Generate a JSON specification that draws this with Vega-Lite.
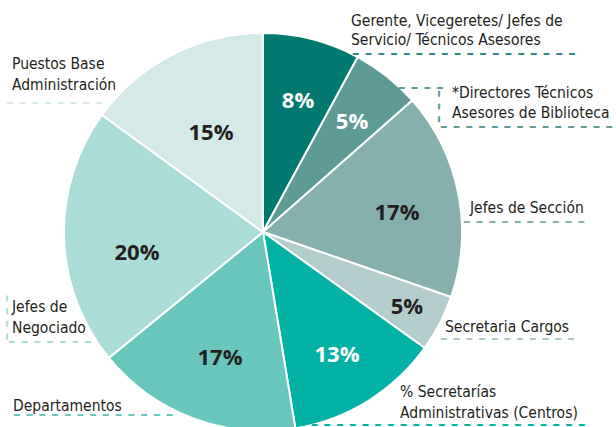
{
  "$schema": "https://vega.github.io/schema/vega-lite/v6.json",
  "width": 526,
  "height": 464,
  "autosize": "none",
  "padding": {"left": 0, "top": 0, "right": 90, "bottom": -37},
  "background": "white",
  "config": {"view": {"stroke": null}},
  "data": {
    "values": [
      {"orden": 1, "categoria": "Gerente, Vicegeretes/ Jefes de Servicio/ Técnicos Asesores", "lineas": ["Gerente, Vicegeretes/ Jefes de", "Servicio/ Técnicos Asesores"], "pct": 7.9, "etiqueta": "8%"},
      {"orden": 2, "categoria": "*Directores Técnicos Asesores de Biblioteca", "lineas": ["*Directores Técnicos", "Asesores de Biblioteca"], "pct": 5.6, "etiqueta": "5%"},
      {"orden": 3, "categoria": "Jefes de Sección", "lineas": ["Jefes de Sección"], "pct": 16.8, "etiqueta": "17%"},
      {"orden": 4, "categoria": "Secretaria Cargos", "lineas": ["Secretaria Cargos"], "pct": 4.6, "etiqueta": "5%"},
      {"orden": 5, "categoria": "% Secretarías Administrativas (Centros)", "lineas": ["% Secretarías", "Administrativas (Centros)"], "pct": 12.5, "etiqueta": "13%"},
      {"orden": 6, "categoria": "Departamentos", "lineas": ["Departamentos"], "pct": 16.7, "etiqueta": "17%"},
      {"orden": 7, "categoria": "Jefes de Negociado", "lineas": ["Jefes de", "Negociado"], "pct": 20.9, "etiqueta": "20%"},
      {"orden": 8, "categoria": "Puestos Base Administración", "lineas": ["Puestos Base", "Administración"], "pct": 15.0, "etiqueta": "15%"}
    ]
  },
  "encoding": {
    "theta": {"field": "pct", "type": "quantitative", "stack": true},
    "order": {"field": "orden", "type": "quantitative"}
  },
  "layer": [
    {
      "mark": {"type": "arc", "radius": 199, "stroke": "white", "strokeWidth": 2},
      "encoding": {
        "color": {
          "field": "categoria", "type": "nominal", "legend": null,
          "scale": {
            "domain": ["Gerente, Vicegeretes/ Jefes de Servicio/ Técnicos Asesores", "*Directores Técnicos Asesores de Biblioteca", "Jefes de Sección", "Secretaria Cargos", "% Secretarías Administrativas (Centros)", "Departamentos", "Jefes de Negociado", "Puestos Base Administración"],
            "range": ["#007A70", "#5E9B96", "#87AFAE", "#B3CDCC", "#03B1A5", "#68C6BC", "#ABDCD8", "#D3EAE9"]
          }
        }
      }
    },
    {"mark": {"type": "text", "radius": 137, "dx": 1.35, "dy": 1.8, "font": "Open Sans", "fontWeight": "bold", "fontSize": 22, "align": "center", "baseline": "middle", "color": "white"},
     "encoding": {"text": {"condition": {"test": "datum.orden == 1", "field": "etiqueta", "type": "nominal"}, "value": ""}}},
    {"mark": {"type": "text", "radius": 137, "dx": 3.68, "dy": -2.81, "font": "Open Sans", "fontWeight": "bold", "fontSize": 22, "align": "center", "baseline": "middle", "color": "white"},
     "encoding": {"text": {"condition": {"test": "datum.orden == 2", "field": "etiqueta", "type": "nominal"}, "value": ""}}},
    {"mark": {"type": "text", "radius": 137, "dx": -0.41, "dy": 7.52, "font": "Open Sans", "fontWeight": "bold", "fontSize": 22, "align": "center", "baseline": "middle", "color": "#231F20"},
     "encoding": {"text": {"condition": {"test": "datum.orden == 3", "field": "etiqueta", "type": "nominal"}, "value": ""}}},
    {"mark": {"type": "text", "radius": 137, "dx": 22.32, "dy": 12.03, "font": "Open Sans", "fontWeight": "bold", "fontSize": 22, "align": "center", "baseline": "middle", "color": "#231F20"},
     "encoding": {"text": {"condition": {"test": "datum.orden == 4", "field": "etiqueta", "type": "nominal"}, "value": ""}}},
    {"mark": {"type": "text", "radius": 137, "dx": 1.7, "dy": 6.63, "font": "Open Sans", "fontWeight": "bold", "fontSize": 22, "align": "center", "baseline": "middle", "color": "white"},
     "encoding": {"text": {"condition": {"test": "datum.orden == 5", "field": "etiqueta", "type": "nominal"}, "value": ""}}},
    {"mark": {"type": "text", "radius": 137, "dx": 5.43, "dy": -2.16, "font": "Open Sans", "fontWeight": "bold", "fontSize": 22, "align": "center", "baseline": "middle", "color": "#231F20"},
     "encoding": {"text": {"condition": {"test": "datum.orden == 6", "field": "etiqueta", "type": "nominal"}, "value": ""}}},
    {"mark": {"type": "text", "radius": 137, "dx": 10.95, "dy": 17.13, "font": "Open Sans", "fontWeight": "bold", "fontSize": 22, "align": "center", "baseline": "middle", "color": "#231F20"},
     "encoding": {"text": {"condition": {"test": "datum.orden == 7", "field": "etiqueta", "type": "nominal"}, "value": ""}}},
    {"mark": {"type": "text", "radius": 137, "dx": 10.2, "dy": 23.07, "font": "Open Sans", "fontWeight": "bold", "fontSize": 22, "align": "center", "baseline": "middle", "color": "#231F20"},
     "encoding": {"text": {"condition": {"test": "datum.orden == 8", "field": "etiqueta", "type": "nominal"}, "value": ""}}},

    {"mark": {"type": "text", "radius": 215, "align": "left", "baseline": "alphabetic", "dx": 35.19, "dy": 2.41, "font": "DejaVu Sans Condensed, Lato, sans-serif", "fontSize": 15.5, "lineHeight": 19, "color": "#231F20"},
     "encoding": {"text": {"condition": {"test": "datum.orden == 1", "field": "lineas", "type": "nominal"}, "value": ""}}},
    {"mark": {"type": "text", "radius": 215, "align": "left", "baseline": "alphabetic", "dx": 55.1, "dy": 34.21, "font": "DejaVu Sans Condensed, Lato, sans-serif", "fontSize": 15.5, "lineHeight": 20, "color": "#231F20"},
     "encoding": {"text": {"condition": {"test": "datum.orden == 2", "field": "lineas", "type": "nominal"}, "value": ""}}},
    {"mark": {"type": "text", "radius": 215, "align": "left", "baseline": "alphabetic", "dx": -3.93, "dy": 22.62, "font": "DejaVu Sans Condensed, Lato, sans-serif", "fontSize": 15.5, "lineHeight": 20, "color": "#231F20"},
     "encoding": {"text": {"condition": {"test": "datum.orden == 3", "field": "lineas", "type": "nominal"}, "value": ""}}},
    {"mark": {"type": "text", "radius": 215, "align": "left", "baseline": "alphabetic", "dx": -8.96, "dy": 1.18, "font": "DejaVu Sans Condensed, Lato, sans-serif", "fontSize": 15.5, "lineHeight": 20, "color": "#231F20"},
     "encoding": {"text": {"condition": {"test": "datum.orden == 4", "field": "lineas", "type": "nominal"}, "value": ""}}},
    {"mark": {"type": "text", "radius": 215, "align": "left", "baseline": "alphabetic", "dx": 23.53, "dy": -17.62, "font": "DejaVu Sans Condensed, Lato, sans-serif", "fontSize": 15.5, "lineHeight": 21, "color": "#231F20"},
     "encoding": {"text": {"condition": {"test": "datum.orden == 5", "field": "lineas", "type": "nominal"}, "value": ""}}},
    {"mark": {"type": "text", "radius": 215, "align": "left", "baseline": "alphabetic", "dx": -174, "dy": -22.12, "font": "DejaVu Sans Condensed, Lato, sans-serif", "fontSize": 15.5, "lineHeight": 20, "color": "#231F20"},
     "encoding": {"text": {"condition": {"test": "datum.orden == 6", "field": "lineas", "type": "nominal"}, "value": ""}}},
    {"mark": {"type": "text", "radius": 215, "align": "left", "baseline": "alphabetic", "dx": -36.09, "dy": 73.92, "font": "DejaVu Sans Condensed, Lato, sans-serif", "fontSize": 15.5, "lineHeight": 21, "color": "#231F20"},
     "encoding": {"text": {"condition": {"test": "datum.orden == 7", "field": "lineas", "type": "nominal"}, "value": ""}}},
    {"mark": {"type": "text", "radius": 215, "align": "left", "baseline": "alphabetic", "dx": -153.39, "dy": 28.57, "font": "DejaVu Sans Condensed, Lato, sans-serif", "fontSize": 15.5, "lineHeight": 21, "color": "#231F20"},
     "encoding": {"text": {"condition": {"test": "datum.orden == 8", "field": "lineas", "type": "nominal"}, "value": ""}}},

    {"mark": {"type": "text", "radius": 215, "align": "left", "baseline": "middle", "dx": 36.19, "dy": 29.41, "font": "DejaVu Sans", "fontWeight": "bold", "fontSize": 15, "color": "#2E8A82"},
     "encoding": {"text": {"condition": {"test": "datum.orden == 1", "value": "– – – – – – – – – – – – – – – – – –"}, "value": ""}}},
    {"mark": {"type": "text", "radius": 215, "align": "left", "baseline": "middle", "dx": 43.1, "dy": 62.21, "font": "DejaVu Sans", "fontWeight": "bold", "fontSize": 15, "color": "#5E9B96"},
     "encoding": {"text": {"condition": {"test": "datum.orden == 2", "value": "– – – – – – – – – – – – – –"}, "value": ""}}},
    {"mark": {"type": "text", "radius": 215, "align": "left", "baseline": "middle", "dx": 1.1, "dy": 23.21, "font": "DejaVu Sans", "fontWeight": "bold", "fontSize": 15, "color": "#5E9B96"},
     "encoding": {"text": {"condition": {"test": "datum.orden == 2", "value": "– – – –"}, "value": ""}}},
    {"mark": {"type": "text", "radius": 215, "align": "center", "baseline": "middle", "angle": 90, "dx": 42.71, "dy": -43.1, "font": "DejaVu Sans", "fontWeight": "bold", "fontSize": 15, "color": "#5E9B96"},
     "encoding": {"text": {"condition": {"test": "datum.orden == 2", "value": "– – –"}, "value": ""}}},
    {"mark": {"type": "text", "radius": 215, "align": "left", "baseline": "middle", "dx": -10.93, "dy": 30.62, "font": "DejaVu Sans", "fontWeight": "bold", "fontSize": 15, "color": "#87AFAE"},
     "encoding": {"text": {"condition": {"test": "datum.orden == 3", "value": "– – – – – – – – – –"}, "value": ""}}},
    {"mark": {"type": "text", "radius": 215, "align": "left", "baseline": "middle", "dx": -13.96, "dy": 7.18, "font": "DejaVu Sans", "fontWeight": "bold", "fontSize": 15, "color": "#A9C6C5"},
     "encoding": {"text": {"condition": {"test": "datum.orden == 4", "value": "– – – – – – – – – – –"}, "value": ""}}},
    {"mark": {"type": "text", "radius": 215, "align": "left", "baseline": "middle", "dx": -78.47, "dy": 9.38, "font": "DejaVu Sans", "fontWeight": "bold", "fontSize": 15, "color": "#03B1A5"},
     "encoding": {"text": {"condition": {"test": "datum.orden == 5", "value": "– – – – – – – – – – – – – – – – – – – – – – –"}, "value": ""}}},
    {"mark": {"type": "text", "radius": 215, "align": "left", "baseline": "middle", "dx": -174, "dy": -19.12, "font": "DejaVu Sans", "fontWeight": "bold", "fontSize": 15, "color": "#68C6BC"},
     "encoding": {"text": {"condition": {"test": "datum.orden == 6", "value": "– – – – – – – – – – – – –"}, "value": ""}}},
    {"mark": {"type": "text", "radius": 215, "align": "left", "baseline": "middle", "dx": -40.09, "dy": 102.92, "font": "DejaVu Sans", "fontWeight": "bold", "fontSize": 15, "color": "#ABDCD8"},
     "encoding": {"text": {"condition": {"test": "datum.orden == 7", "value": "– – – – – – –"}, "value": ""}}},
    {"mark": {"type": "text", "radius": 215, "align": "center", "baseline": "middle", "angle": 90, "dx": 79.42, "dy": 40.09, "font": "DejaVu Sans", "fontWeight": "bold", "fontSize": 15, "color": "#ABDCD8"},
     "encoding": {"text": {"condition": {"test": "datum.orden == 7", "value": "– – – –"}, "value": ""}}},
    {"mark": {"type": "text", "radius": 215, "align": "left", "baseline": "middle", "dx": -159.39, "dy": 61.57, "font": "DejaVu Sans", "fontWeight": "bold", "fontSize": 15, "color": "#D3EAE9"},
     "encoding": {"text": {"condition": {"test": "datum.orden == 8", "value": "– – – – – – – –"}, "value": ""}}}
  ]
}
